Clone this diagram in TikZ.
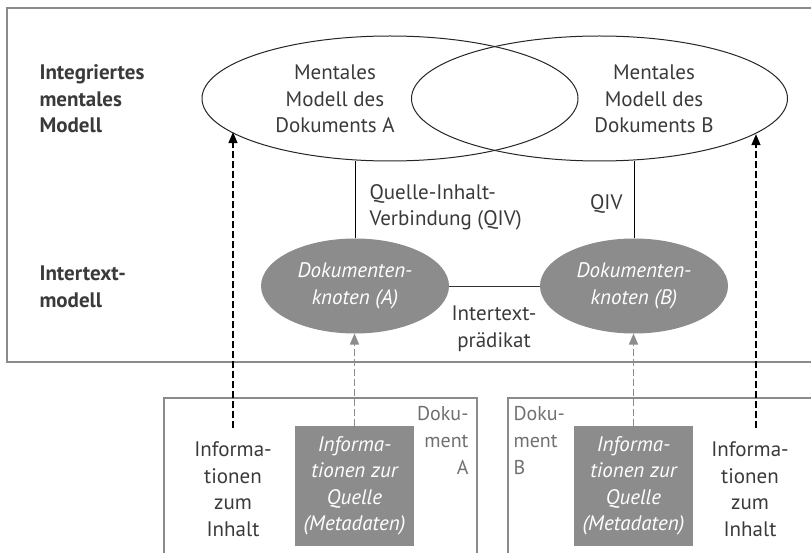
\documentclass[tikz,border=0pt]{standalone}
\usepackage{fontspec}
\setmainfont{PT Sans}
\usetikzlibrary{shapes.geometric,arrows.meta}
\definecolor{txt}{HTML}{3A3A3A}
\definecolor{knot}{HTML}{8C8C8C}
\definecolor{frame}{HTML}{8A8A8A}
\definecolor{docl}{HTML}{707070}

\begin{document}
\begin{tikzpicture}[x=1pt,y=-1pt,>={Triangle[length=11pt,width=9pt]},
  font=\fontsize{21}{26.5}\selectfont,text=txt,
  mm/.style={ellipse,draw=black!85,line width=1pt,inner sep=0pt,outer sep=0pt,
    minimum width=376pt,minimum height=125pt},
  knoten/.style={ellipse,fill=knot,text=white,inner sep=0pt,outer sep=0pt,
    minimum width=188pt,minimum height=95pt,align=center,font=\fontsize{21}{26.5}\selectfont\itshape},
  quelle/.style={fill=knot,text=white,inner sep=0pt,minimum width=119pt,
    minimum height=120pt,align=center,font=\fontsize{21}{26.5}\selectfont\itshape},
  info/.style={align=center,outer ysep=10pt},
  doku/.style={text=docl,font=\fontsize{20}{27}\selectfont},
  ebene/.style={anchor=west,align=left,font=\fontsize{21}{26.5}\selectfont\bfseries},
  pfeil/.style={->,dash pattern=on 7pt off 3pt,line width=1.4pt}]
  \useasboundingbox (0,0) rectangle (811,553);
  \draw[frame,line width=1.3pt] (811,8) -| (7,362) -- (811,362);
  \draw[frame,line width=1.2pt] (164,553) |- (477,398) -- (477,553);
  \draw[frame,line width=1.2pt] (508,553) |- (811,398);

  \node[ebene] (lvl1) at (36,99) {Integriertes\\mentales\\Modell};
  \node[ebene] (lvl2) at (36,287) {Intertext-\\modell};

  \foreach \s/\mx/\tx/\kx/\qx in {A/390/335/355/354.5,B/599.5/654/634/633.5} {
    \node[mm] (mm\s) at (\mx,98.5) {};
    \node[align=center] (mmt\s) at (\tx,99) {Mentales\\Modell des\\Dokuments \s};
    \node[knoten] (dok\s) at (\kx,286) {Dokumenten-\\knoten (\s)};
    \node[quelle] (meta\s) at (\qx,486) {Informa-\\tionen zur\\Quelle\\(Metadaten)};
    \draw[line width=.9pt] (dok\s.north) -- (dok\s.north |- mm\s.south);
    \draw[pfeil,knot] (meta\s.north) -- (meta\s.north |- dok\s.south);
  }
  \draw[line width=.9pt,black!80] (dokA) -- (dokB);

  \node[anchor=west,align=left] (qiv) at (366,207.5) {Quelle-Inhalt-\\Verbindung (QIV)};
  \node[anchor=east] (qivB) at (626,204) {QIV};
  \node[align=center] (praed) at (494,328.5) {Intertext-\\prädikat};

  \node[info] (infoA) at (233,489) {Informa-\\tionen\\zum\\Inhalt};
  \node[info] (infoB) at (750,489) {Informa-\\tionen\\zum\\Inhalt};
  \draw[pfeil,black] (infoA.north) -- (infoA.north |- mmA.192.4);
  \draw[pfeil,black] ([xshift=6pt]infoB.north) -- ([xshift=6pt]infoB.north |- mmB.347.6);

  \node[doku,anchor=east,align=right] (dokuA) at (472,440) {Doku-\\ment\\A};
  \node[doku,anchor=west,align=left] (dokuB) at (510,440) {Doku-\\ment\\B};
\end{tikzpicture}
\end{document}
